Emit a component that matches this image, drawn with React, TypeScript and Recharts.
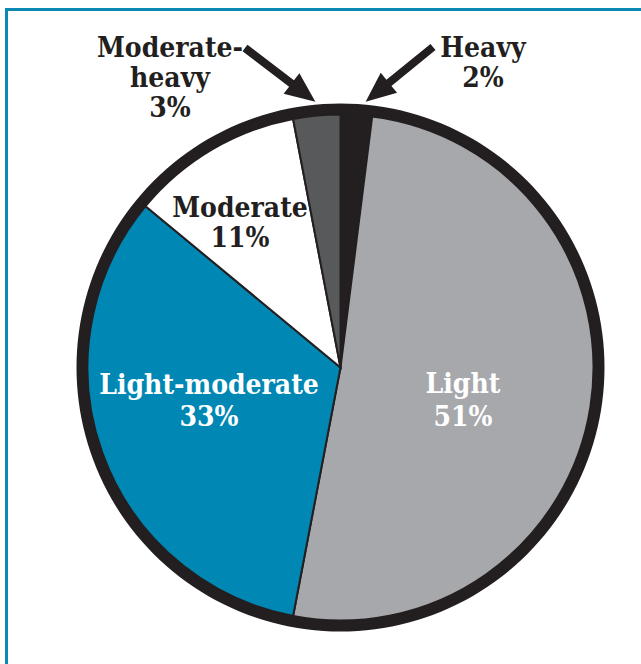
import { PieChart, Pie, Cell } from 'recharts';

const categories = ['Heavy', 'Light', 'Light-moderate', 'Moderate', 'Moderate-heavy'];
const shares = [2, 51, 33, 11, 3];
const labelLines = [['Heavy'], ['Light'], ['Light-moderate'], ['Moderate'], ['Moderate-', 'heavy']];

const colors = ['#231f20', '#a7a8ab', '#0087b3', '#ffffff', '#58595b'];
const textColors = ['#231f20', '#ffffff', '#ffffff', '#231f20', '#231f20'];

// label placement relative to pie centre (first baseline), plus optional arrow
const labelPos: Record<string, { dx: number; dy: number; lh: number; arrow?: { tx: number; ty: number; shift: number } }> = {
    'Heavy': { dx: 142.5, dy: -310.5, lh: 30, arrow: { tx: 92.5, ty: -320.5, shift: -1.8 } },
    'Light': { dx: 122.5, dy: 25.5, lh: 33 },
    'Light-moderate': { dx: -131.5, dy: 26.5, lh: 32 },
    'Moderate': { dx: -100.5, dy: -150.5, lh: 30 },
    'Moderate-heavy': { dx: -170.5, dy: -310.5, lh: 30, arrow: { tx: -95.5, ty: -319.5, shift: 0 } },
};

const data = categories.map((name, i) => ({ name, value: shares[i] }));
const ring = [{ name: 'ring', value: 1 }];

const RAD = Math.PI / 180;
const CX = 340.5;
const CY = 367.5;

const arrowPoly = (x1: number, y1: number, x2: number, y2: number) => {
    const len = Math.hypot(x2 - x1, y2 - y1);
    const ux = (x2 - x1) / len, uy = (y2 - y1) / len;
    const px = -uy, py = ux;
    const sw = 4, hw = 13, hl = 30;
    const bx = x2 - ux * hl, by = y2 - uy * hl;
    const pts = [
        [x1 + px * sw, y1 + py * sw],
        [bx + px * sw, by + py * sw],
        [bx + px * hw, by + py * hw],
        [x2, y2],
        [bx - px * hw, by - py * hw],
        [bx - px * sw, by - py * sw],
        [x1 - px * sw, y1 - py * sw],
    ];
    return pts.map(p => p.join(',')).join(' ');
};

const renderLabel = (props: any) => {
    const { cx, cy, midAngle, index } = props;
    const name = categories[index];
    const cfg = labelPos[name];
    const lines = [...labelLines[index], `${shares[index]}%`];
    const x = cx + cfg.dx;
    let arrow = null;
    if (cfg.arrow) {
        const a = (midAngle + cfg.arrow.shift) * RAD;
        const r = 267;
        const tipX = cx + r * Math.cos(-a);
        const tipY = cy + r * Math.sin(-a);
        arrow = <polygon points={arrowPoly(cx + cfg.arrow.tx, cy + cfg.arrow.ty, tipX, tipY)} fill='#231f20' />;
    }
    return (
        <g key={name}>
            {arrow}
            <text x={x} y={cy + cfg.dy} textAnchor='middle' fill={textColors[index]}
                fontFamily="'DejaVu Serif Condensed', 'DejaVu Serif'" fontWeight='bold' fontSize={28}>
                {lines.map((l, i) => (
                    <tspan key={i} x={x} dy={i === 0 ? 0 : cfg.lh}>{l}</tspan>
                ))}
            </text>
        </g>
    );
};

export default function App() {
    return (
        <div style={{ position: 'absolute', left: 0, top: 0, width: 641, height: 664, background: '#fff', overflow: 'hidden' }}>
            <div style={{ position: 'absolute', left: 5, top: 8, width: 700, height: 700, border: '3px solid #0a8ab3' }} />
            <div style={{ position: 'absolute', left: 0, top: 0 }}>
                <PieChart width={641} height={664} margin={{ top: 0, right: 0, bottom: 0, left: 0 }}>
                    <Pie data={ring} dataKey='value' cx={CX} cy={CY} innerRadius={252} outerRadius={264}
                        startAngle={90} endAngle={-270} stroke='none' fill='#231f20' isAnimationActive={false} />
                    <Pie data={data} dataKey='value' nameKey='name' cx={CX} cy={CY} outerRadius={253}
                        startAngle={90} endAngle={-270} stroke='#231f20' strokeWidth={2}
                        label={renderLabel} labelLine={false} isAnimationActive={false}>
                        {data.map((d, i) => <Cell key={d.name} fill={colors[i]} />)}
                    </Pie>
                </PieChart>
            </div>
        </div>
    );
}
